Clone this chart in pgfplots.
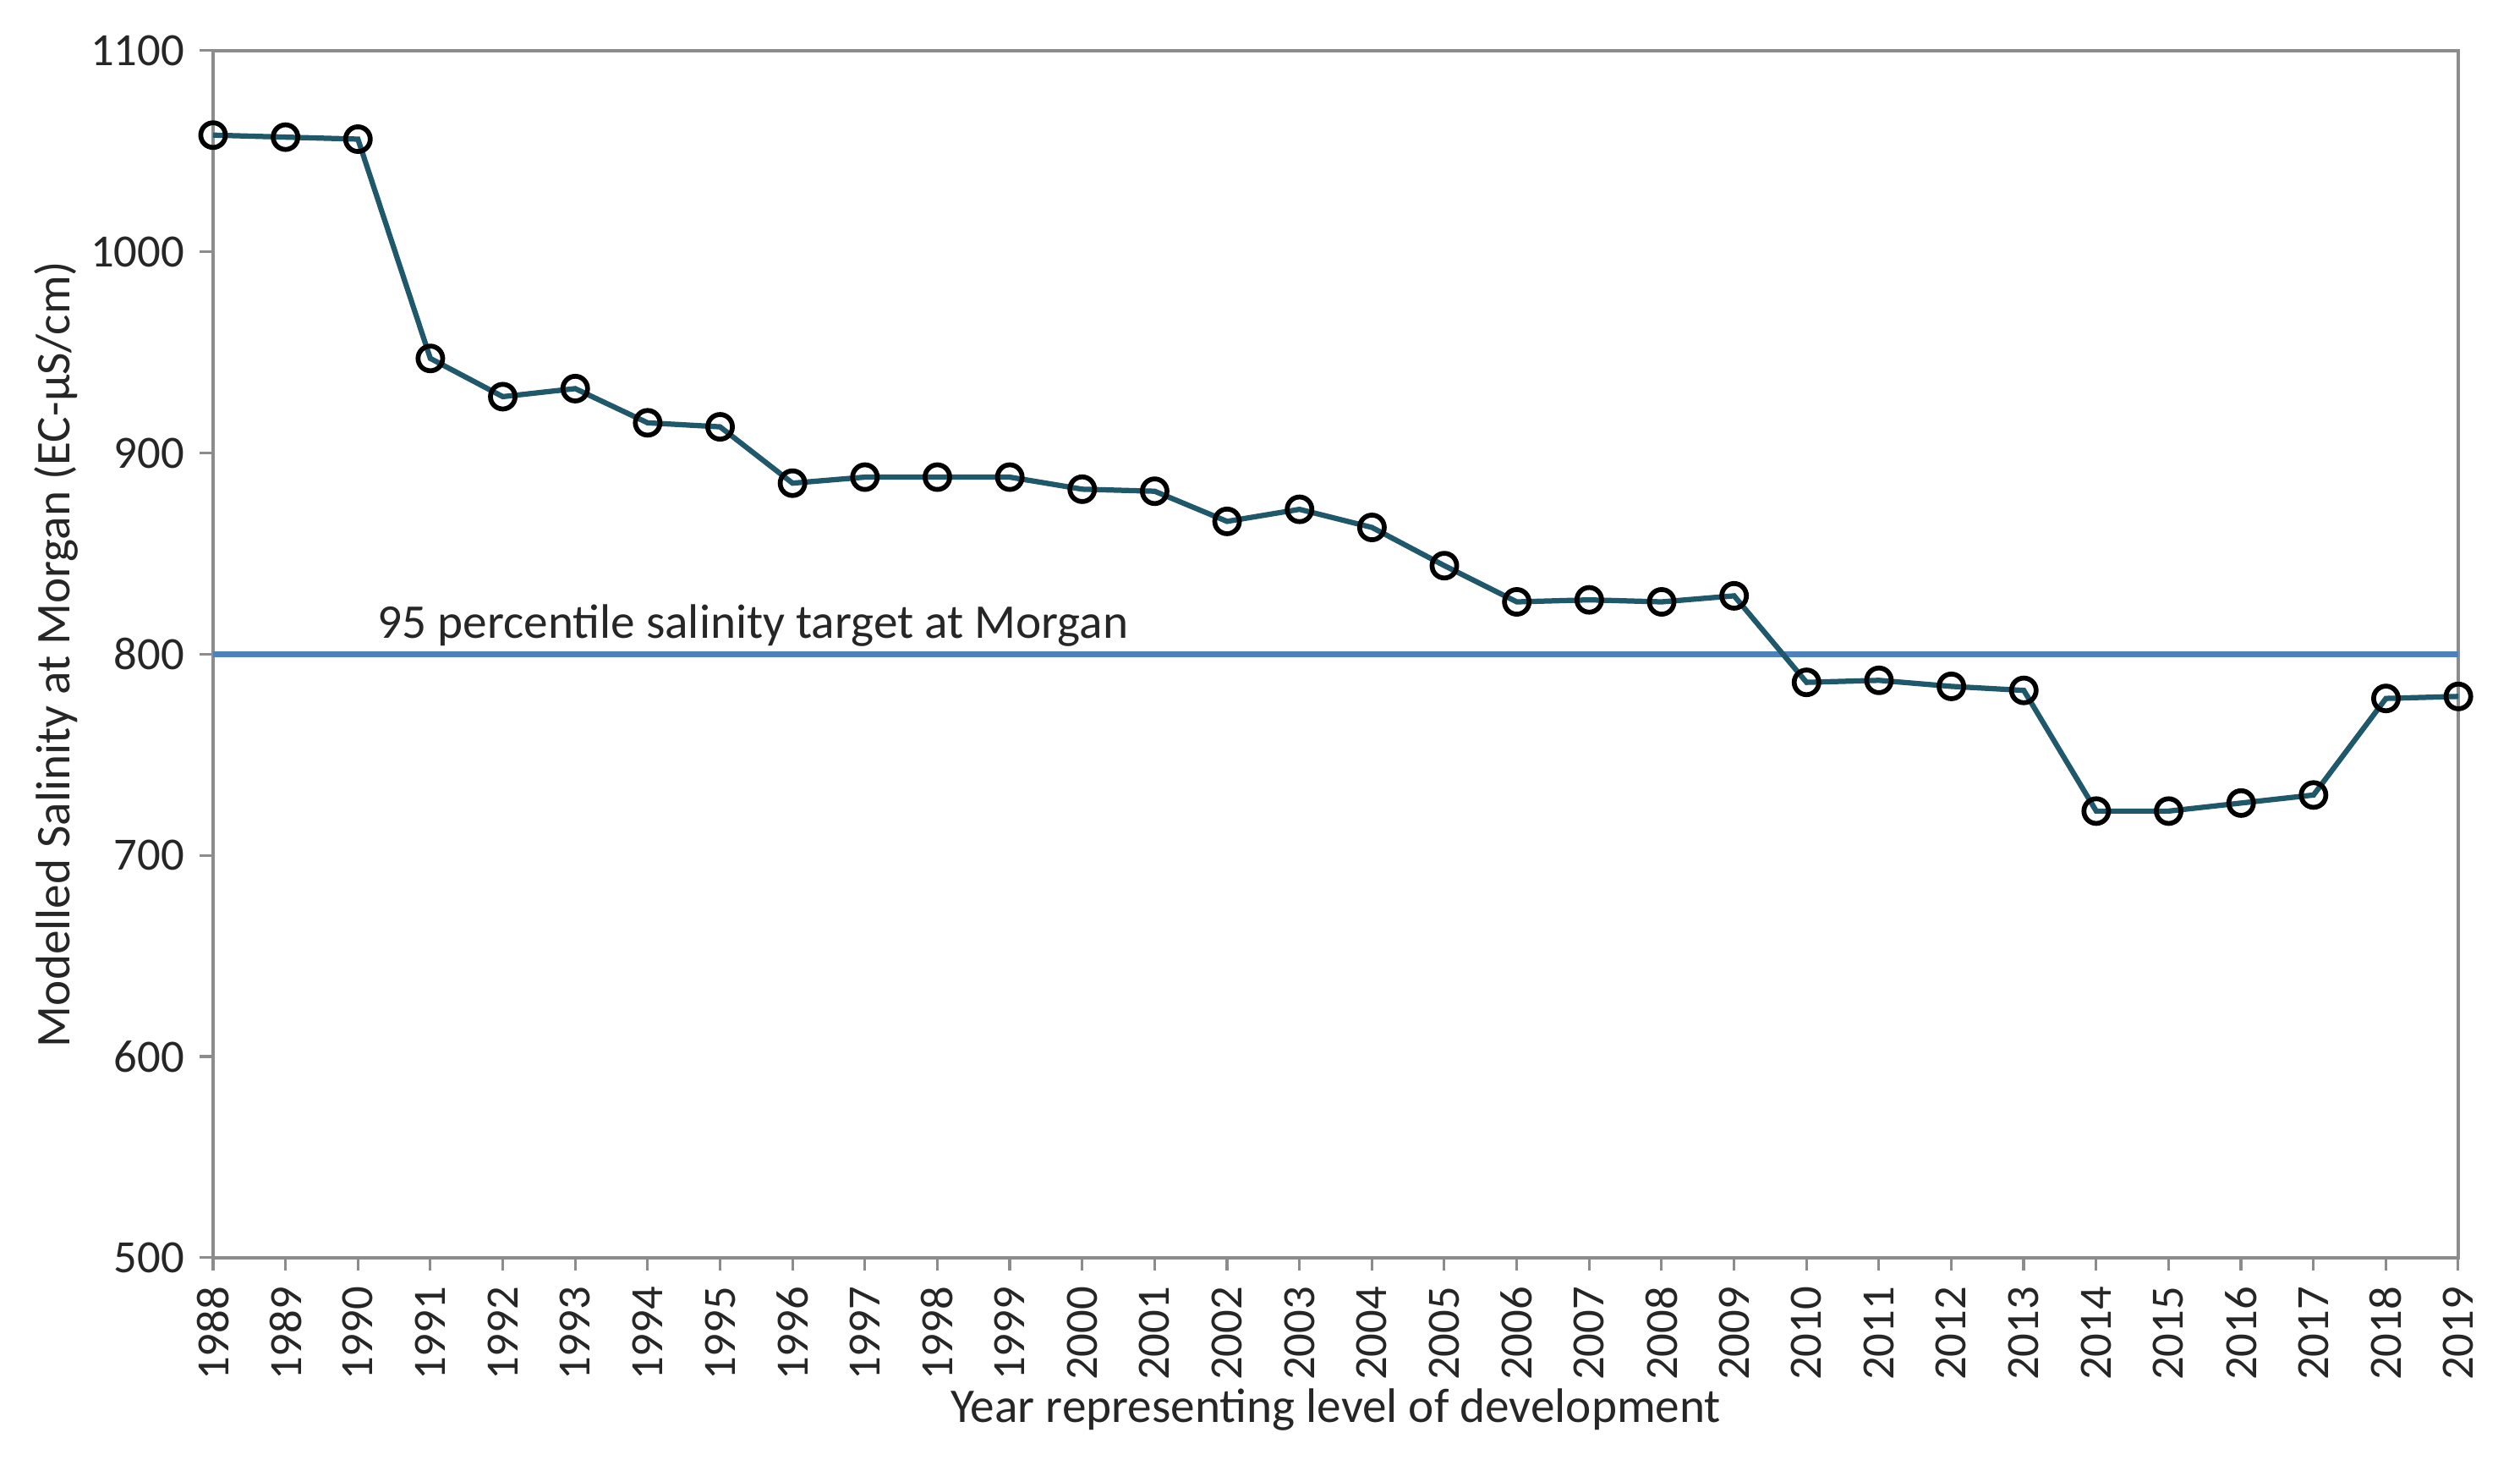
\documentclass[border=0pt]{standalone}
\usepackage{fontspec}
\setmainfont{Carlito}
\usepackage{pgfplots}
\pgfplotsset{compat=1.18}
\definecolor{teal}{RGB}{31,88,106}
\definecolor{target}{RGB}{79,129,189}
\definecolor{axgray}{RGB}{140,140,140}
\begin{document}
\begin{tikzpicture}
\begin{axis}[
    scale only axis,
    width=510pt, height=274.1pt,
    xmin=1988, xmax=2019,
    ymin=500, ymax=1100,
    xtick={1988,...,2019},
    ytick={500,600,...,1100},
    axis line style={axgray, line width=0.8pt},
    tick style={axgray, line width=0.6pt},
    tick align=outside,
    major tick length=3pt,
    xtick pos=bottom, ytick pos=left,
    /pgf/number format/1000 sep={},
    /pgf/number format/assume math mode=true,
    ticklabel style={font=\fontsize{10.5}{12}\selectfont, text=black!85},
    x tick label style={rotate=90, anchor=east},
    xlabel={Year representing level of development},
    ylabel={Modelled Salinity at Morgan (EC-µS/cm)},
    label style={font=\fontsize{11}{13}\selectfont, text=black!85},
    xlabel style={yshift=5pt},
    ylabel style={yshift=-4pt},
    clip=false,
]
\addplot[target, line width=1.3pt] coordinates {(1988,800) (2019,800)};
\node[anchor=south west, font=\fontsize{11}{13}\selectfont, text=black!85, inner sep=1pt]
    at (axis cs:1990.2,801) {95 percentile salinity target at Morgan};
\addplot[teal, line width=1.2pt, mark=o,
    mark options={black, line width=1.1pt, scale=1.4}] coordinates {
    (1988,1058) (1989,1057) (1990,1056) (1991,947) (1992,928) (1993,932)
    (1994,915) (1995,913) (1996,885) (1997,888) (1998,888) (1999,888)
    (2000,882) (2001,881) (2002,866) (2003,872) (2004,863) (2005,844)
    (2006,826) (2007,827) (2008,826) (2009,829) (2010,786) (2011,787)
    (2012,784) (2013,782) (2014,722) (2015,722) (2016,726) (2017,730)
    (2018,778) (2019,779)
};
\end{axis}
\path ([xshift=-48.4pt,yshift=-45.9pt]current axis.south west)
    rectangle ([xshift=14pt,yshift=11.5pt]current axis.north east);
\end{tikzpicture}
\end{document}
